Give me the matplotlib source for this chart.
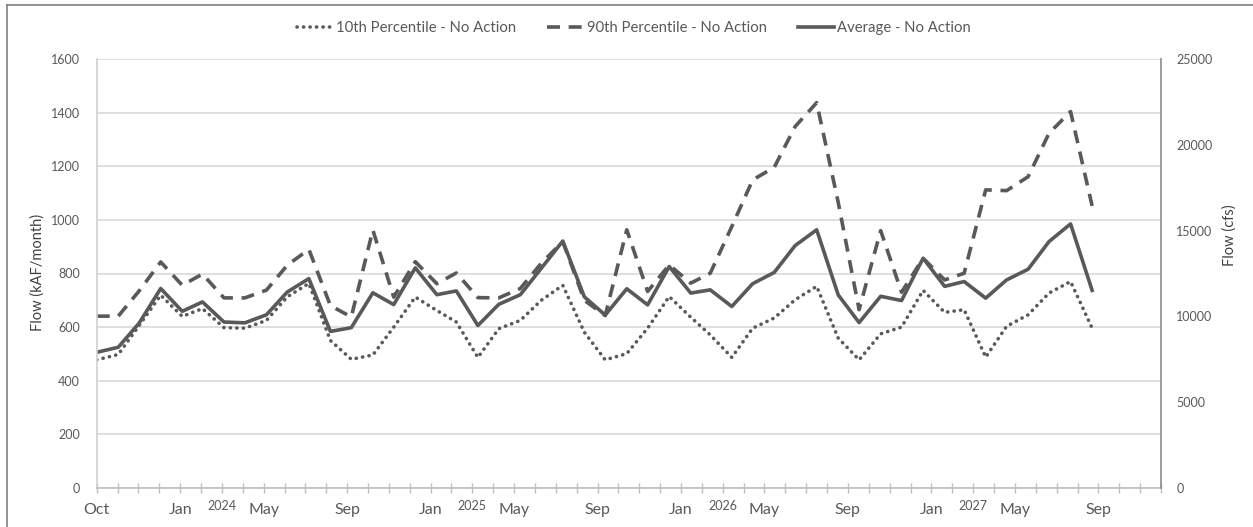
import matplotlib.pyplot as plt
from matplotlib.lines import Line2D
import numpy as np
import pandas as pd

plt.rcParams['font.family'] = ['Lato', 'DejaVu Sans']

# monthly data, Oct 2023 - Sep 2027 (kAF/month)
months = pd.date_range('2023-10-01', '2027-09-01', freq='MS')

p10 = [478, 498, 606, 719, 640, 669, 598, 596, 625, 713, 763, 550, 480,
       496, 600, 712, 662, 619, 487, 594, 625, 700, 756, 581, 478,
       501, 596, 714, 637, 571, 487, 596, 634, 702, 752, 559, 478,
       575, 600, 737, 655, 665, 488, 603, 646, 727, 770, 596]

p90 = [641, 641, 735, 843, 756, 798, 709, 709, 738, 831, 890, 680, 638,
       962, 712, 844, 762, 802, 710, 709, 744, 838, 919, 700, 643,
       963, 733, 832, 764, 801, 975, 1149, 1196, 1348, 1437, 1065, 665,
       960, 730, 857, 776, 801, 1112, 1109, 1161, 1323, 1404, 1052]

avg = [506, 525, 615, 744, 659, 694, 619, 616, 646, 731, 781, 584, 598,
       728, 684, 821, 721, 735, 606, 685, 721, 819, 921, 713, 645,
       743, 683, 826, 727, 739, 677, 762, 804, 904, 963, 720, 617,
       715, 699, 857, 752, 770, 708, 776, 816, 919, 985, 737]

labels = ['10th Percentile - No Action', '90th Percentile - No Action', 'Average - No Action']

# axis: ticks every 30 days, labels every 4th tick
start = pd.Timestamp('2023-10-01')
tick_days = [start + pd.Timedelta(days=30 * k) for k in range(52)]
year_ticks = [6, 18, 30, 42]

line_c = '#595959'
grid_c = '#d9d9d9'
text_c = '#595959'

fig = plt.figure(figsize=(12.53, 5.27), dpi=100)
ax = fig.add_axes([96.7 / 1253, 1 - 488 / 527, (1161 - 96.7) / 1253, 429 / 527])

ax.plot(months, p10, color=line_c, lw=2.6, linestyle=(0, (0.05, 1.75)),
        dash_capstyle='round', label=labels[0])
ax.plot(months, p90, color=line_c, lw=2.6, linestyle=(0, (3.6, 2.4)), label=labels[1])
ax.plot(months, avg, color=line_c, lw=2.6, label=labels[2])

ax.set_xlim(tick_days[0], tick_days[-1])
ax.set_ylim(0, 1600)
ax.set_yticks(np.arange(0, 1601, 200))
ax.grid(axis='y', color=grid_c, lw=1.2)
ax.set_axisbelow(True)

ax.set_xticks(tick_days[::4])
ax.set_xticklabels([d.strftime('%b') for d in tick_days[::4]], fontsize=11.5, color=text_c)
ax.set_xticks(tick_days, minor=True)
ax.tick_params(axis='x', which='both', direction='inout', length=7, color='#bfbfbf', width=1, pad=7)
ax.tick_params(axis='y', length=0, labelsize=9, labelcolor=text_c, pad=12)

for k in year_ticks:
    ax.text(tick_days[k], -0.028, tick_days[k].strftime('%Y'), transform=ax.get_xaxis_transform(),
            ha='center', va='top', fontsize=9, color=text_c)

for s in ['top', 'right']:
    ax.spines[s].set_visible(False)
ax.spines['left'].set_color('#d0d0d0')
ax.spines['bottom'].set_color('#bfbfbf')
ax.spines['left'].set_linewidth(1.2)
ax.spines['bottom'].set_linewidth(1.2)

fig.text(38 / 1253, 1 - 272 / 527, 'Flow (kAF/month)', rotation=90, ha='center', va='center',
         fontsize=10.5, color='#404040')

ax2 = ax.twinx()
ax2.set_ylim(0, 25000)
ax2.set_yticks(np.arange(0, 25001, 5000))
ax2.tick_params(axis='y', length=0, labelsize=9, labelcolor=text_c, pad=11)
for s in ['top', 'left', 'bottom']:
    ax2.spines[s].set_visible(False)
ax2.spines['right'].set_color('#8c8c8c')
ax2.spines['right'].set_linewidth(1.2)
fig.text(1230 / 1253, 1 - 235 / 527, 'Flow (cfs)', rotation=90, ha='center', va='center',
         fontsize=10.5, color='#404040')

handles, labs = ax.get_legend_handles_labels()
fig.legend(handles, labs, loc='center', bbox_to_anchor=(634 / 1253, 1 - 28 / 527), ncol=3,
           frameon=False, fontsize=10.7, labelcolor=text_c, handlelength=2.4,
           handletextpad=0.25, columnspacing=2.1)

# outer chart border
fig.add_artist(Line2D([7 / 1253, 7 / 1253], [0, 1 - 5 / 527], color='#7f7f7f', lw=1.2))
fig.add_artist(Line2D([7 / 1253, 1], [1 - 5 / 527, 1 - 5 / 527], color='#7f7f7f', lw=1.2))

fig.savefig('out.png', dpi=100)
